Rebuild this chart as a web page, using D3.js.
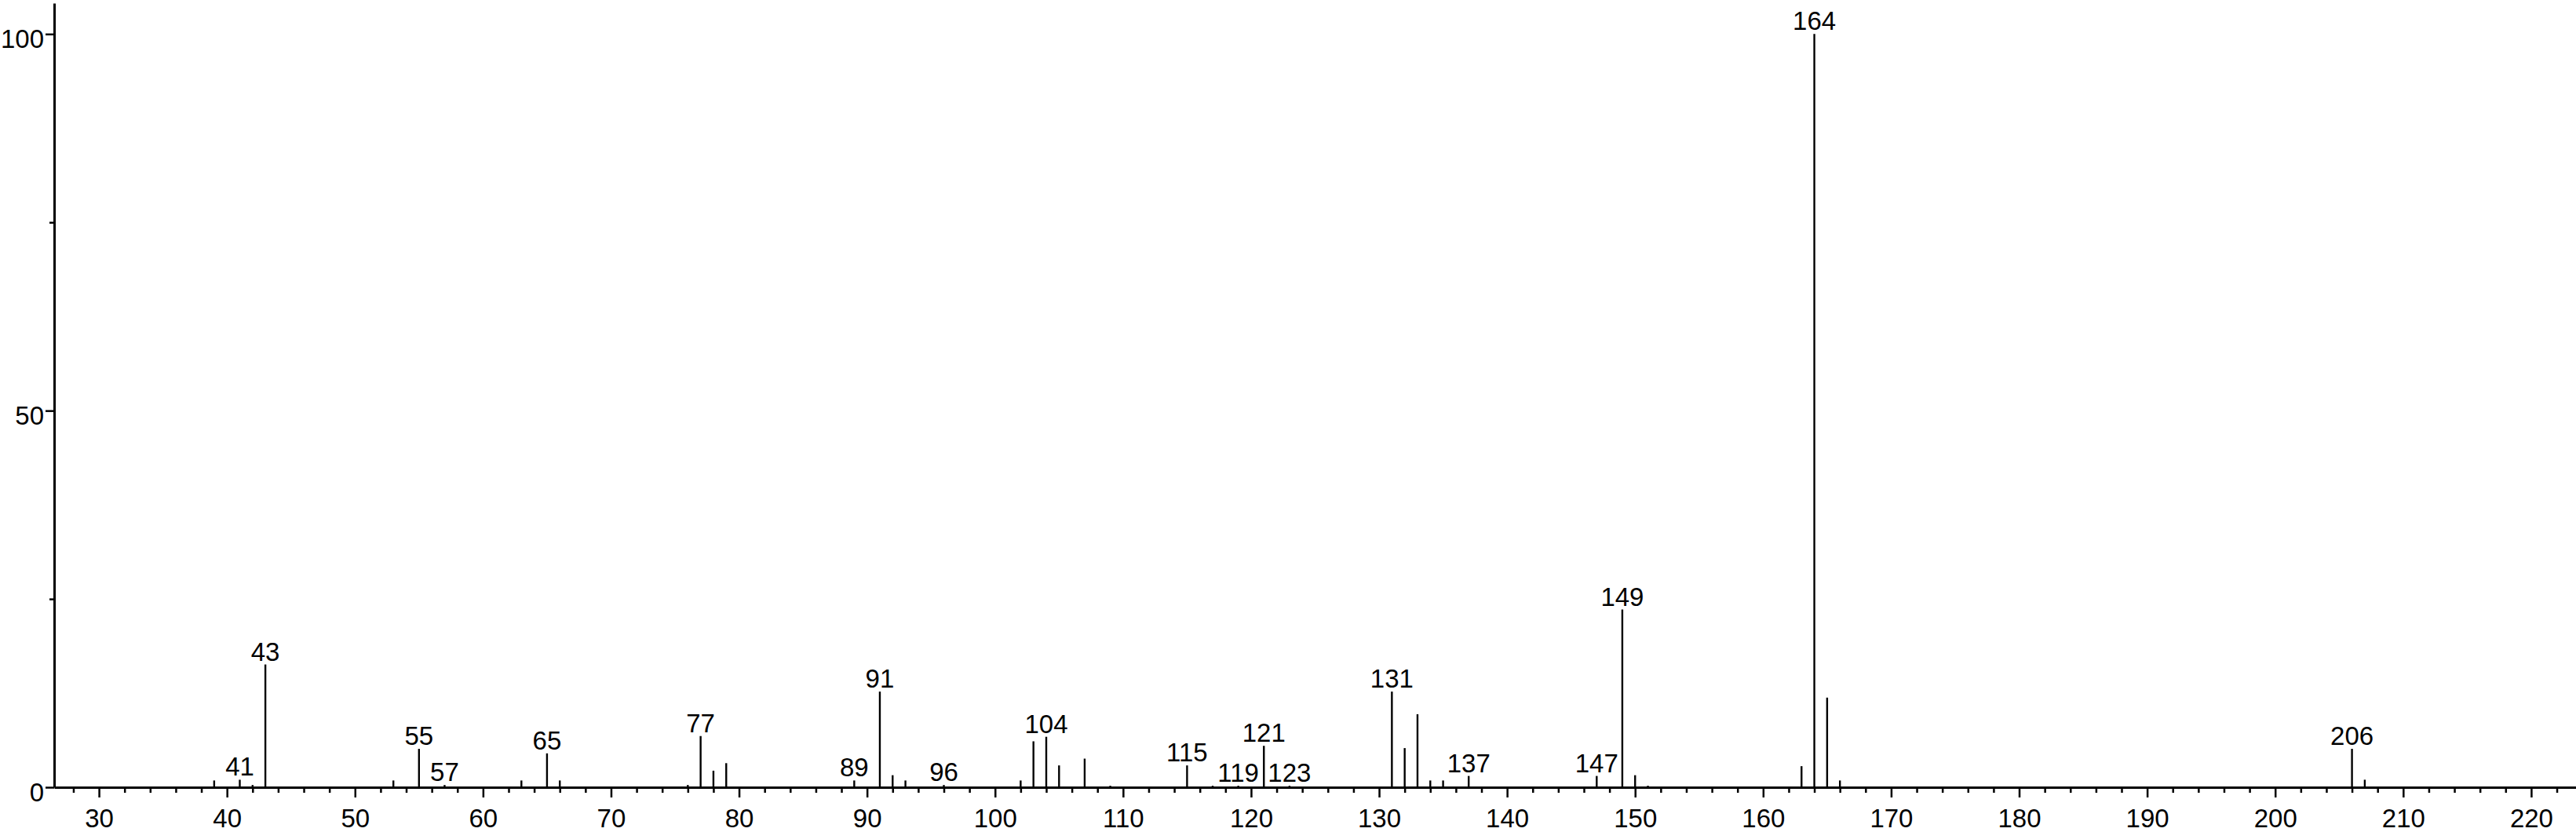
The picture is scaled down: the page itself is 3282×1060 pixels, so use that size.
<!DOCTYPE html>
<html>
<head>
<meta charset="utf-8">
<script src="https://cdn.jsdelivr.net/npm/d3@7"></script>
<style>
  html, body { margin: 0; padding: 0; background: #fff; }
  svg { display: block; }
  text { font-family: "Liberation Sans", Arial, Helvetica, sans-serif; fill: #000; }
</style>
</head>
<body>
<svg id="chart" width="3282" height="1060"></svg>
<script>
// m/z values of peaks
const masses = [39, 41, 42, 43, 53, 55, 57, 63, 65, 66, 76, 77, 78, 79, 89, 91, 92, 93, 96,
  102, 103, 104, 105, 107, 109, 115, 117, 119, 121, 123, 131, 132, 133, 134, 135, 137,
  147, 149, 150, 151, 163, 164, 165, 166, 206, 207];
// relative intensities (%)
const intensities = [0.9, 1.0, 0.3, 16.3, 0.9, 5.1, 0.3, 0.9, 4.5, 0.9, 0.3, 6.8, 2.2, 3.2, 0.9, 12.7, 1.6, 0.9, 0.3,
  0.9, 6.1, 6.7, 2.9, 3.8, 0.2, 2.9, 0.2, 0.2, 5.5, 0.2, 12.7, 5.2, 9.7, 0.9, 0.9, 1.5,
  1.5, 23.6, 1.6, 0.2, 2.8, 100, 11.9, 0.9, 5.1, 1.0];
// peaks that carry a label
const labeledMasses = [41, 43, 55, 57, 65, 77, 89, 91, 96, 104, 115, 119, 121, 123, 131, 137, 147, 149, 164, 206];
// axis ticks
const xMajorTicks = [30, 40, 50, 60, 70, 80, 90, 100, 110, 120, 130, 140, 150, 160, 170, 180, 190, 200, 210, 220];
const xMinorTicks = d3.range(28, 224, 2).filter(v => v % 10 !== 0);
const yMajorTicks = [0, 50, 100];
const yMinorTicks = [25, 75];

const peaks = masses.map((m, i) => ({ m, v: intensities[i] }));

const svg = d3.select("#chart");
const x = d3.scaleLinear().domain([26.5, 223.5]).range([69, 3282]);
const y = d3.scaleLinear().domain([0, 104.1]).range([1003, 4]);
const FS = 33;

// X axis: minor ticks
const gxMinor = svg.append("g").attr("transform", `translate(0,${y(0)})`)
  .call(d3.axisBottom(x).tickValues(xMinorTicks).tickSize(7).tickSizeOuter(0).tickFormat(""));
gxMinor.select(".domain").remove();
gxMinor.selectAll("line").attr("stroke", "#000").attr("stroke-width", 2.5);

// X axis: major ticks with labels
const gx = svg.append("g").attr("transform", `translate(0,${y(0)})`)
  .call(d3.axisBottom(x).tickValues(xMajorTicks).tickSize(13).tickSizeOuter(0).tickFormat(d3.format("d")));
gx.select(".domain").attr("stroke", "#000").attr("stroke-width", 3);
gx.selectAll("line").attr("stroke", "#000").attr("stroke-width", 2.5);
gx.selectAll("text").attr("y", 51).attr("dy", 0).style("font-size", FS + "px")
  .style("font-family", '"Liberation Sans", Arial, sans-serif').attr("fill", "#000");

// Y axis: minor ticks
const gyMinor = svg.append("g").attr("transform", `translate(${x.range()[0]},0)`)
  .call(d3.axisLeft(y).tickValues(yMinorTicks).tickSize(6).tickSizeOuter(0).tickFormat(""));
gyMinor.select(".domain").remove();
gyMinor.selectAll("line").attr("stroke", "#000").attr("stroke-width", 2.5);

// Y axis: major ticks with labels
const gy = svg.append("g").attr("transform", `translate(${x.range()[0]},0)`)
  .call(d3.axisLeft(y).tickValues(yMajorTicks).tickSize(11).tickSizeOuter(0).tickFormat(d3.format("d")));
gy.select(".domain").attr("stroke", "#000").attr("stroke-width", 3);
gy.selectAll("line").attr("stroke", "#000").attr("stroke-width", 2.5);
gy.selectAll("text").attr("x", -13).attr("dy", 0).attr("y", 17).style("font-size", FS + "px")
  .style("font-family", '"Liberation Sans", Arial, sans-serif').attr("fill", "#000");

// Peaks (stick spectrum)
svg.append("g").selectAll("line.peak").data(peaks).join("line")
  .attr("class", "peak")
  .attr("x1", d => x(d.m)).attr("x2", d => x(d.m))
  .attr("y1", y(0)).attr("y2", d => y(d.v))
  .attr("stroke", "#000").attr("stroke-width", 2.4);

// Peak labels
svg.append("g").selectAll("text.plabel").data(peaks.filter(d => labeledMasses.includes(d.m))).join("text")
  .attr("class", "plabel")
  .attr("x", d => x(d.m)).attr("y", d => y(d.v) - 5)
  .attr("text-anchor", "middle")
  .style("font-size", FS + "px")
  .text(d => d.m);
</script>
</body>
</html>
